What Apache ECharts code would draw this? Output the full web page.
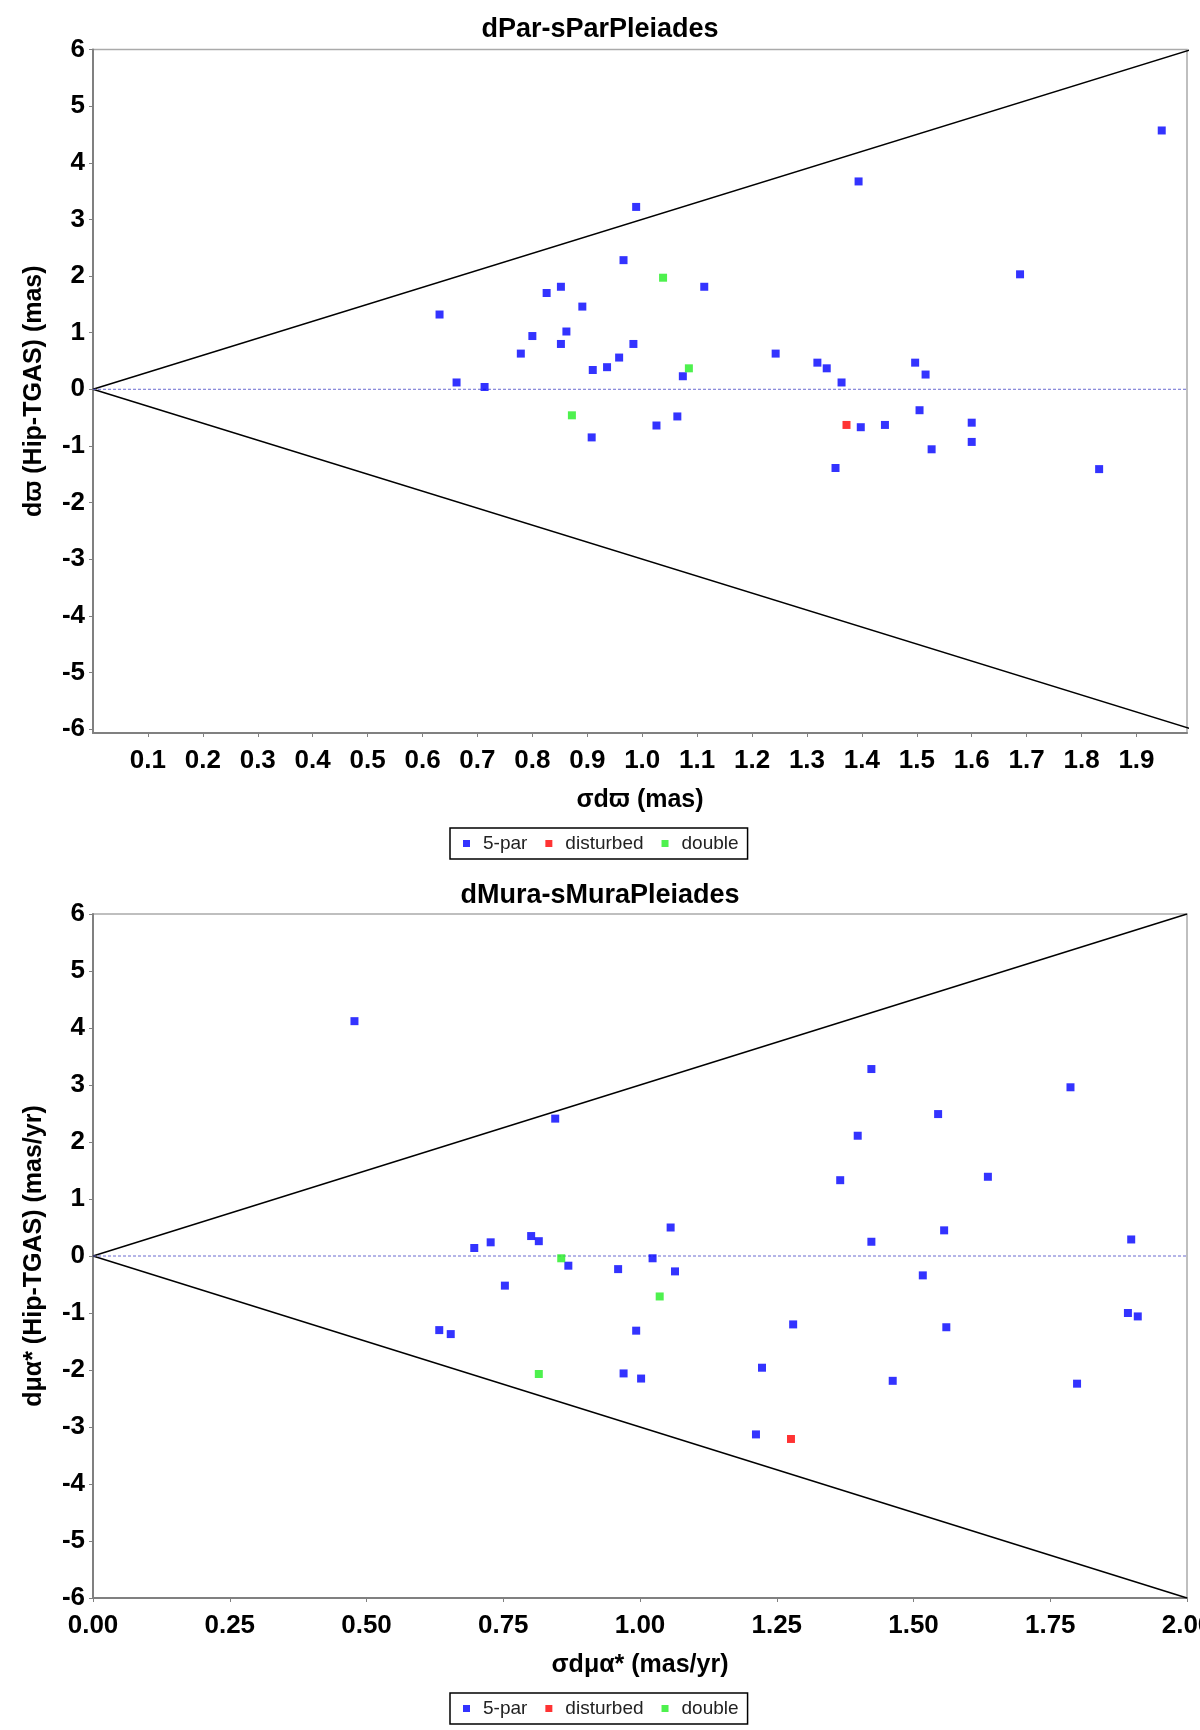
<!DOCTYPE html>
<html>
<head>
<meta charset="utf-8">
<script src="https://cdn.jsdelivr.net/npm/echarts@6/dist/echarts.min.js"></script>
<style>
html, body { margin: 0; padding: 0; background: #fff; }
#chart { width: 1200px; height: 1730px; }
</style>
</head>
<body>
<div id="chart"></div>
<script>
// dPar-sParPleiades : [sigma dPar, dPar]
var parBlue = [
  [0.631, 1.32], [0.662, 0.12], [0.713, 0.04], [0.779, 0.63], [0.800, 0.94],
  [0.826, 1.70], [0.852, 1.81], [0.852, 0.80], [0.862, 1.02], [0.891, 1.46],
  [0.910, 0.34], [0.908, -0.85], [0.936, 0.39], [0.958, 0.56], [0.966, 2.28],
  [0.984, 0.80], [0.989, 3.22], [1.026, -0.64], [1.064, -0.48], [1.074, 0.23],
  [1.113, 1.81], [1.243, 0.63], [1.319, 0.47], [1.336, 0.37], [1.352, -1.39],
  [1.363, 0.12], [1.394, 3.67], [1.398, -0.67], [1.442, -0.63], [1.497, 0.47],
  [1.505, -0.37], [1.516, 0.26], [1.527, -1.06], [1.600, -0.59], [1.600, -0.93],
  [1.688, 2.03], [1.832, -1.41], [1.946, 4.57]
];
var parRed = [[1.372, -0.63]];
var parGreen = [[0.872, -0.46], [1.038, 1.97], [1.085, 0.37]];

// dMura-sMuraPleiades : [sigma dMura, dMura]
var muBlue = [
  [0.478, 4.12], [0.845, 2.41], [0.697, 0.14], [0.727, 0.24], [0.753, -0.52],
  [0.801, 0.35], [0.815, 0.26], [0.869, -0.17], [0.633, -1.30], [0.654, -1.37],
  [1.423, 3.28], [1.787, 2.96], [1.545, 2.49], [1.398, 2.11], [1.366, 1.33],
  [1.636, 1.39], [1.056, 0.50], [1.556, 0.45], [1.423, 0.25], [1.898, 0.29],
  [1.023, -0.04], [0.960, -0.23], [1.064, -0.27], [1.517, -0.34], [1.892, -1.00],
  [1.910, -1.06], [0.993, -1.31], [1.280, -1.20], [1.560, -1.25], [0.970, -2.06],
  [1.002, -2.15], [1.223, -1.96], [1.462, -2.19], [1.799, -2.24], [1.212, -3.13]
];
var muRed = [[1.276, -3.21]];
var muGreen = [[0.856, -0.04], [1.036, -0.71], [0.815, -2.07]];

// envelope |d| = 3 sigma and zero line
var envUpper = [[0, 0], [2, 6]];
var envLower = [[0, 0], [2, -6]];
var zeroLine = [[0, 0], [2, 0]];

var parTicks = [0.1, 0.2, 0.3, 0.4, 0.5, 0.6, 0.7, 0.8, 0.9, 1.0, 1.1, 1.2, 1.3, 1.4, 1.5, 1.6, 1.7, 1.8, 1.9];
var muTicks = [0, 0.25, 0.5, 0.75, 1.0, 1.25, 1.5, 1.75, 2.0];
var yTicks = [-6, -5, -4, -3, -2, -1, 0, 1, 2, 3, 4, 5, 6];
var legendNames = ['5-par', 'disturbed', 'double'];

var FONT = "'Liberation Sans', Arial, sans-serif";

function xAxis(idx, min, max, ticks, digits, name) {
  return {
    type: 'value', gridIndex: idx, min: min, max: max,
    name: name, nameLocation: 'middle', nameGap: 55,
    nameTextStyle: {fontFamily: FONT, fontSize: 25, fontWeight: 'bold', color: '#000'},
    axisLine: {onZero: false, lineStyle: {color: '#808080', width: 2}},
    axisTick: {show: true, length: 4, customValues: ticks, lineStyle: {color: '#808080'}},
    axisLabel: {
      customValues: ticks, margin: 15, color: '#000', fontFamily: FONT, fontSize: 26, fontWeight: 'bold',
      formatter: function (v) { return v.toFixed(digits); }
    },
    splitLine: {show: false}
  };
}

function yAxis(idx, min, name) {
  return {
    type: 'value', gridIndex: idx, min: min, max: 6,
    name: name, nameLocation: 'middle', nameGap: 46,
    nameTextStyle: {fontFamily: FONT, fontSize: 25, fontWeight: 'bold', color: '#000'},
    axisLine: {onZero: false, lineStyle: {color: '#808080', width: 2}},
    axisTick: {show: true, length: 4, customValues: yTicks, lineStyle: {color: '#808080'}},
    axisLabel: {
      customValues: yTicks, margin: 8, color: '#000', fontFamily: FONT, fontSize: 26, fontWeight: 'bold',
      formatter: function (v) { return String(Math.round(v)); }
    },
    splitLine: {show: false}
  };
}

function points(idx, name, data, color) {
  return {
    type: 'scatter', name: name, xAxisIndex: idx, yAxisIndex: idx,
    data: data, symbol: 'rect', symbolSize: 8,
    itemStyle: {color: color}
  };
}

function guide(idx, data, style) {
  return {
    type: 'line', xAxisIndex: idx, yAxisIndex: idx, data: data,
    symbol: 'none', silent: true, lineStyle: style, z: 1
  };
}

function legend(top) {
  return {
    data: legendNames, left: 450, top: top, orient: 'horizontal',
    padding: [6, 9, 6, 13], itemGap: 18, itemWidth: 7, itemHeight: 7, icon: 'rect',
    borderColor: '#000', borderWidth: 1.5, borderRadius: 0,
    textStyle: {fontFamily: FONT, fontSize: 19, color: '#222', padding: [0, 0, 0, 8]}
  };
}

var series = [];
[[parBlue, parRed, parGreen], [muBlue, muRed, muGreen]].forEach(function (d, i) {
  series.push(guide(i, envUpper, {color: '#000', width: 1.5}));
  series.push(guide(i, envLower, {color: '#000', width: 1.5}));
  series.push(guide(i, zeroLine, {color: '#6a6ad0', width: 1, type: [3, 2]}));
  series.push(points(i, '5-par', d[0], '#0000ff'));
  series.push(points(i, 'disturbed', d[1], '#ff0000'));
  series.push(points(i, 'double', d[2], '#22ee22'));
});

var chart = echarts.init(document.getElementById('chart'));
chart.setOption({
  animation: false,
  backgroundColor: '#fff',
  title: [
    {text: 'dPar-sParPleiades', left: 'center', top: 11,
     textStyle: {fontFamily: FONT, fontSize: 27, fontWeight: 'bold', color: '#000'}},
    {text: 'dMura-sMuraPleiades', left: 'center', top: 877,
     textStyle: {fontFamily: FONT, fontSize: 27, fontWeight: 'bold', color: '#000'}}
  ],
  legend: [legend(828), legend(1693)],
  grid: [
    {left: 93, top: 49.5, width: 1094, height: 683.5, show: true, borderColor: '#aaa', borderWidth: 1.5,
     containLabel: false, outerBoundsMode: 'none'},
    {left: 93, top: 914, width: 1094, height: 684, show: true, borderColor: '#aaa', borderWidth: 1.5,
     containLabel: false, outerBoundsMode: 'none'}
  ],
  xAxis: [
    xAxis(0, 0, 1.992, parTicks, 1, 'σdϖ (mas)'),
    xAxis(1, 0, 2, muTicks, 2, 'σdμα* (mas/yr)')
  ],
  yAxis: [
    yAxis(0, -6.07, 'dϖ (Hip-TGAS) (mas)'),
    yAxis(1, -6, 'dμα* (Hip-TGAS) (mas/yr)')
  ],
  series: series
});
</script>
</body>
</html>
